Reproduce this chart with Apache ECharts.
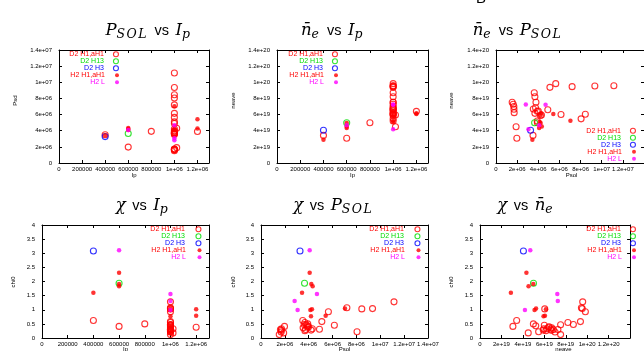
<!DOCTYPE html>
<html>
<head>
<meta charset="utf-8">
<script src="https://cdn.jsdelivr.net/npm/echarts@6/dist/echarts.min.js"></script>
<style>
  html, body { margin: 0; padding: 0; background: #fff; }
  #chart { width: 644px; height: 351px; }
</style>
</head>
<body>
<div id="chart"></div>
<script>
// Shot records, one row per discharge: [Ip (A), Psol (W), neave (m^-3), chi0]
const d2H1aH1 = [
  [4.0e5, 3.50e6, 3.42e19, 0.62],
  [6.0e5, 1.97e6, 3.07e19, 0.41],
  [8.0e5, 3.92e6, 4.98e19, 0.50],
  [1.2e6, 3.90e6, 6.40e19, 0.38],
  [1.0e6, 1.53e6, 7.52e19, 0.12],
  [1.0e6, 1.63e6, 7.27e19, 0.30],
  [1.0e6, 1.69e6, 7.00e19, 0.21],
  [1.0e6, 1.70e6, 6.66e19, 0.27],
  [1.0e6, 1.72e6, 6.24e19, 0.33],
  [1.02e6, 1.90e6, 4.50e19, 0.18],
  [1.0e6, 5.10e6, 9.37e19, 0.58],
  [1.0e6, 5.65e6, 9.83e19, 0.93],
  [1.0e6, 7.20e6, 9.46e19, 1.07],
  [1.0e6, 9.35e6, 9.54e19, 1.04],
  [1.0e6, 1.115e7, 9.58e19, 1.28],
  [1.0e6, 6.15e6, 6.00e19, 0.45],
  [1.0e6, 8.05e6, 5.47e19, 0.22],
  [1.0e6, 8.45e6, 6.04e19, 1.03],
  [1.0e6, 3.62e6, 8.71e19, 0.48],
  [1.0e6, 3.68e6, 8.20e19, 0.55],
  [1.0e6, 3.78e6, 7.52e19, 0.47],
  [1.0e6, 3.53e6, 6.69e19, 0.36],
  [1.0e6, 3.74e6, 6.85e19, 0.30],
  [1.0e6, 3.68e6, 6.15e19, 0.26],
  [1.0e6, 4.00e6, 6.45e19, 0.40],
  [1.0e6, 4.20e6, 5.90e19, 0.28],
  [1.0e6, 4.90e6, 6.60e19, 0.31],
  [1.0e6, 3.90e6, 5.20e19, 0.43],
  [1.02e6, 4.30e6, 5.95e19, 0.33]
];
const d2H13 = [
  [6.0e5, 3.65e6, 4.99e19, 1.94]
];
const d2H3 = [
  [4.0e5, 3.27e6, 4.05e19, 3.08]
];
const h2H1aH1 = [
  [4.0e5, 3.44e6, 2.88e19, 1.60],
  [6.0e5, 4.08e6, 4.33e19, 2.31],
  [6.0e5, 4.22e6, 4.97e19, 1.91],
  [6.0e5, 4.33e6, 4.53e19, 1.83],
  [1.0e6, 7.04e6, 5.23e19, 1.04],
  [1.0e6, 4.19e6, 5.93e19, 0.77],
  [1.0e6, 4.14e6, 5.09e19, 0.99],
  [1.2e6, 5.42e6, 6.06e19, 0.79],
  [1.2e6, 4.27e6, 6.15e19, 1.02]
];
const h2L = [
  [6.0e5, 4.08e6, 4.69e19, 3.11],
  [1.0e6, 4.69e6, 7.21e19, 1.56],
  [1.0e6, 2.82e6, 7.26e19, 1.31],
  [1.0e6, 3.07e6, 4.19e19, 0.99]
];

const seriesNames = ['D2 H1,aH1', 'D2 H13', 'D2 H3', 'H2 H1,aH1', 'H2 L'];
const seriesRows = [d2H1aH1, d2H13, d2H3, h2H1aH1, h2L];
const FIELD = { Ip: 0, Psol: 1, neave: 2, chi0: 3 };

// Axis extents and tick steps
const ipRange = [0, 1.3e6, 2e5];
const psolRange = [0, 1.4e7, 2e6];
const neRange = [0, 1.4e20, 2e19];
const chiRange = [0, 4, 0.5];

// ---- styling ----
const COLORS = ['#ff0000', '#00dd00', '#0000ff', '#ff0000', '#ff00ff'];
const OPEN = [true, true, true, false, false];
const SANS = "'Liberation Sans', Arial, sans-serif";
const SERIF = "'DejaVu Serif', 'Liberation Serif', serif";
const W = 644;

// gnuplot-like %g number formatting
function gfmt(v) {
  if (Math.abs(v) < 1e-30) return '0';
  const e = Math.floor(Math.log10(Math.abs(v)) + 1e-9);
  if (e >= 6 || e < -4) {
    const m = +(v / Math.pow(10, e)).toPrecision(6);
    return m + 'e' + (e < 0 ? '-' : '+') + String(Math.abs(e)).padStart(2, '0');
  }
  return String(+v.toPrecision(6));
}
function tickFormatter(step) {
  return function (v) {
    const k = v / step;
    if (Math.abs(k - Math.round(k)) > 1e-6) return '';
    return gfmt(v);
  };
}

const TOP_ROW = { top: 50, height: 113 };
const BOT_ROW = { top: 225, height: 113 };

const panels = [
  { x: 'Ip', y: 'Psol', xr: ipRange, yr: psolRange, rect: { left: 59, width: 150, ...TOP_ROW },
    xName: 'Ip', yName: 'Psd', xNameY: 175, yNameX: 15, yNameY: 100.5,
    legend: { sym: 112, w: 14, row: 54.3 },
    title: { cx: 148.5, base: 36.5, parts: [['P', 'm'], ['SOL', 's'], ['vs', 'v'], ['I', 'm'], ['p', 's']] } },
  { x: 'Ip', y: 'neave', xr: ipRange, yr: neRange, rect: { left: 277, width: 151, ...TOP_ROW },
    xName: 'Ip', yName: 'neave', xNameY: 175, yNameX: 233, yNameY: 100.5,
    legend: { sym: 331, w: 14, row: 54.3 },
    title: { cx: 332.5, base: 36.5, parts: [['n\u0304', 'm'], ['e', 's'], ['vs', 'v'], ['I', 'm'], ['p', 's']] } },
  { x: 'Psol', y: 'neave', xr: psolRange, yr: neRange, rect: { left: 496, width: 151, ...TOP_ROW },
    xName: 'Psol', yName: 'neave', xNameY: 175, yNameX: 451, yNameY: 100.5,
    legend: { sym: 629, w: 14, row: 130.7 },
    title: { cx: 517.5, base: 36.5, parts: [['n\u0304', 'm'], ['e', 's'], ['vs', 'v'], ['P', 'm'], ['SOL', 's']] } },
  { x: 'Ip', y: 'chi0', xr: ipRange, yr: chiRange, rect: { left: 42, width: 167, ...BOT_ROW },
    xName: 'Ip', yName: 'chi0', xNameY: 349.5, yNameX: 13.5, yNameY: 282,
    legend: { sym: 193, w: 17, row: 229.3 },
    title: { cx: 142.5, base: 211, parts: [['\u03c7', 'm'], ['vs', 'v'], ['I', 'm'], ['p', 's']] } },
  { x: 'Psol', y: 'chi0', xr: psolRange, yr: chiRange, rect: { left: 261, width: 167, ...BOT_ROW },
    xName: 'Psol', yName: 'chi0', xNameY: 349.5, yNameX: 233, yNameY: 282,
    legend: { sym: 412, w: 17, row: 229.3 },
    title: { cx: 333.3, base: 211, parts: [['\u03c7', 'm'], ['vs', 'v'], ['P', 'm'], ['SOL', 's']] } },
  { x: 'neave', y: 'chi0', xr: neRange, yr: chiRange, rect: { left: 480, width: 167, ...BOT_ROW },
    xName: 'neave', yName: 'chi0', xNameY: 349.5, yNameX: 451, yNameY: 282,
    legend: { sym: 629, w: 14, row: 229.3 },
    title: { cx: 525.7, base: 211, parts: [['\u03c7', 'm'], ['vs', 'v'], ['n\u0304', 'm'], ['e', 's']] } }
];

// title text styles: math italic, subscript, plain "vs"
const TSTY = {
  m: { font: 'italic 16.5px ' + SERIF, size: 16.5, dy: 0, ls: 0 },
  s: { font: 'italic 12.5px ' + SERIF, size: 12.5, dy: 3, ls: 1.5 },
  v: { font: '14.5px ' + SANS, size: 14.5, dy: 0, ls: 0, pad: 6.5 }
};
const measureCtx = document.createElement('canvas').getContext('2d');

function titleElements(t) {
  const items = [];
  let x = 0;
  t.parts.forEach(([txt, k], i) => {
    const st = TSTY[k];
    if (st.pad && i > 0) x += st.pad;
    const chunks = st.ls ? [...txt.normalize('NFC')] : [txt];
    measureCtx.font = st.font;
    chunks.forEach(ch => {
      items.push({ ch, x, st });
      x += measureCtx.measureText(ch).width + st.ls;
    });
    if (st.pad) x += st.pad;
  });
  const x0 = t.cx - x / 2;
  return items.map(it => ({
    type: 'text', silent: true,
    x: x0 + it.x, y: t.base + it.st.dy - 0.35 * it.st.size,
    style: { text: it.ch, font: it.st.font, fill: '#000', align: 'left', verticalAlign: 'middle' }
  }));
}

const grid = [], xAxis = [], yAxis = [], series = [], legend = [], graphic = [];

function axisCommon(range, showLabel) {
  return {
    type: 'value', min: range[0], max: range[1], interval: range[2],
    axisLine: { show: true, onZero: false, lineStyle: { color: '#000', width: 1 } },
    axisTick: { show: true, inside: true, length: 3, lineStyle: { color: '#000', width: 1 } },
    splitLine: { show: false },
    axisLabel: { show: showLabel, color: '#000', fontSize: 6, fontFamily: SANS, formatter: tickFormatter(range[2]) }
  };
}

panels.forEach((p, i) => {
  grid.push({ left: p.rect.left, top: p.rect.top, width: p.rect.width, height: p.rect.height, containLabel: false });
  const xb = axisCommon(p.xr, true); xb.gridIndex = i; xb.position = 'bottom'; xb.axisLabel.margin = 3.5;
  const xt = axisCommon(p.xr, false); xt.gridIndex = i; xt.position = 'top';
  const yl = axisCommon(p.yr, true); yl.gridIndex = i; yl.position = 'left'; yl.axisLabel.margin = 7;
  const yr = axisCommon(p.yr, false); yr.gridIndex = i; yr.position = 'right';
  xAxis.push(xb, xt);
  yAxis.push(yl, yr);

  seriesNames.forEach((name, g) => {
    const open = OPEN[g];
    series.push({
      type: 'scatter', name, xAxisIndex: 2 * i, yAxisIndex: 2 * i,
      data: seriesRows[g].map(r => [r[FIELD[p.x]], r[FIELD[p.y]]]),
      symbol: 'circle', symbolSize: open ? 6 : 4.5,
      itemStyle: open
        ? { color: 'rgba(0,0,0,0)', borderColor: COLORS[g], borderWidth: 1.1 }
        : { color: COLORS[g], borderWidth: 0 },
      emphasis: { disabled: true }, silent: true, z: 2 + g
    });
  });

  // key: hollow-marker entries, then filled-marker entries
  const L = p.legend;
  const right = W - (L.sym + L.w / 2);
  [[0, 3, 5, true], [3, 5, 4, false]].forEach(([a, b, h, open]) => {
    legend.push({
      orient: 'vertical', align: 'right', right, top: L.row + a * 7 - 3.5,
      itemWidth: L.w, itemHeight: h, itemGap: 0, padding: 0, selectedMode: false,
      textStyle: { fontSize: 7, lineHeight: 7, fontFamily: SANS },
      data: seriesNames.slice(a, b).map((n, k) => ({
        name: n, icon: 'circle',
        itemStyle: open
          ? { color: 'rgba(0,0,0,0)', borderColor: COLORS[a + k], borderWidth: 1.1 }
          : { color: COLORS[a + k], borderWidth: 0 },
        textStyle: { color: COLORS[a + k] }
      }))
    });
  });

  graphic.push(...titleElements(p.title));
  graphic.push({
    type: 'text', silent: true, x: p.rect.left + p.rect.width / 2, y: p.xNameY,
    style: { text: p.xName, font: '6px ' + SANS, fill: '#000', align: 'center', verticalAlign: 'middle' }
  });
  graphic.push({
    type: 'text', silent: true, x: p.yNameX, y: p.yNameY, rotation: Math.PI / 2,
    style: { text: p.yName, font: '6px ' + SANS, fill: '#000', align: 'center', verticalAlign: 'middle' }
  });
});

// page label clipped at the top edge
graphic.push({
  type: 'text', silent: true, x: 476, y: -1,
  style: { text: 'B', font: '15px ' + SANS, fill: '#000', align: 'left', verticalAlign: 'middle' }
});

const chart = echarts.init(document.getElementById('chart'), null, { renderer: 'canvas' });
chart.setOption({
  animation: false,
  backgroundColor: '#fff',
  grid, xAxis, yAxis, series, legend, graphic
});
</script>
</body>
</html>
